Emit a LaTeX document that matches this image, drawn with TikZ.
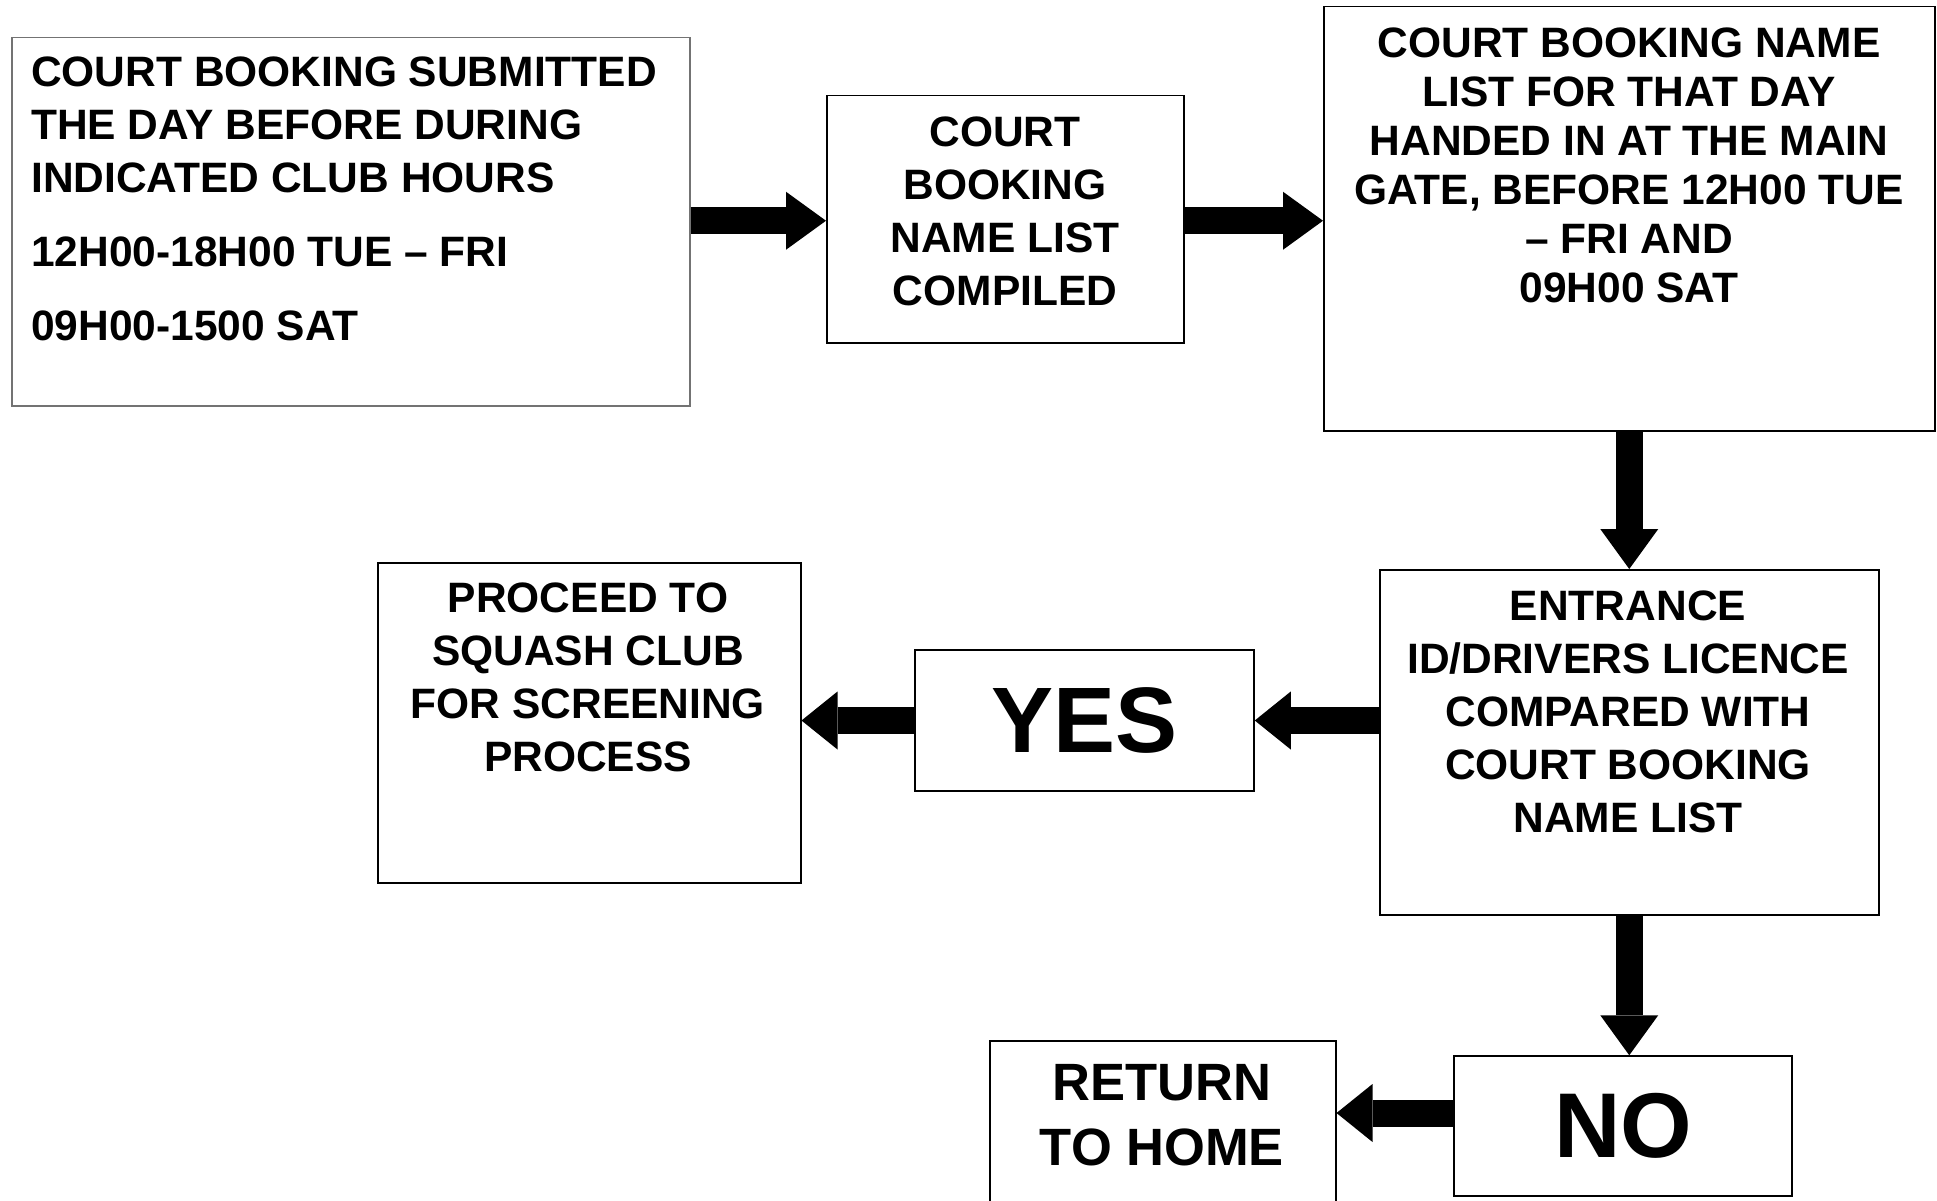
\documentclass[tikz,border=0pt]{standalone}
\usepackage{fontspec}
\setmainfont{Liberation Sans}
\usetikzlibrary{arrows.meta,calc}
\begin{document}
\begin{tikzpicture}[x=1pt,y=-1pt,
  box/.style={draw=black,line width=1.5pt,inner sep=0pt,anchor=north west,fill=none},
  txt/.style={inner sep=0pt,anchor=north,align=center,font=\fontsize{42.5}{53}\selectfont\bfseries},
  bigarr/.style={line width=27pt,-{Triangle[length=40pt,width=58pt,line width=0pt]}},
  leftarr/.style={line width=27pt,-{Triangle[length=36pt,width=58pt,line width=0pt]}}]
\clip (0,0) rectangle (1937,1201);
\fill[white] (0,0) rectangle (1937,1201);
% boxes
\node[box,draw=black!55,minimum width=678pt,minimum height=368pt] (b1) at (11,37) {};
\node[box,minimum width=357pt,minimum height=247pt] (b2) at (826,95) {};
\node[box,minimum width=611pt,minimum height=424pt] (b3) at (1323,6) {};
\node[box,minimum width=499pt,minimum height=345pt] (b4) at (1379,569) {};
\node[box,minimum width=339pt,minimum height=141pt,anchor=center,font=\fontsize{93}{100}\selectfont\bfseries] (yes) at (1084.5,720.5) {YES};
\node[box,minimum width=423pt,minimum height=320pt] (proc) at (377,562) {};
\node[box,minimum width=338pt,minimum height=140pt,anchor=center,font=\fontsize{92}{100}\selectfont\bfseries] (no) at (1623,1126) {NO};
\node[box,minimum width=346pt,minimum height=240pt] (ret) at (989,1040) {};
% texts
\node[txt,anchor=north west,align=left] (t1) at (31,57) {COURT BOOKING SUBMITTED\\THE DAY BEFORE DURING\\INDICATED CLUB HOURS\\[21pt]12H00-18H00 TUE -- FRI\\[21pt]09H00-1500 SAT};
\node[txt] (t2) at (1005,117) {COURT\\BOOKING\\NAME LIST\\COMPILED};
\node[txt,font=\fontsize{42.5}{49}\selectfont\bfseries] (t3) at (1629,28) {COURT BOOKING NAME\\LIST FOR THAT DAY\\HANDED IN AT THE MAIN\\GATE, BEFORE 12H00 TUE\\-- FRI AND\\09H00 SAT};
\node[txt] (t4) at (1628,591) {ENTRANCE\\ID/DRIVERS LICENCE\\COMPARED WITH\\COURT BOOKING\\NAME LIST};
\node[txt] (tp) at (588,583) {PROCEED TO\\SQUASH CLUB\\FOR SCREENING\\PROCESS};
\node[txt,font=\fontsize{52.5}{65}\selectfont\bfseries] (tr) at (1162,1064) {RETURN\\TO HOME};
% arrows
\draw[bigarr] ($(b1.east)+(0,-1)$) -- ($(b1.east -| b2.west)+(0,-1)$);
\draw[bigarr] ($(b1.east -| b2.east)+(0,-1)$) -- ($(b1.east -| b3.west)+(0,-1)$);
\draw[bigarr] (b3.south) -- (b3.south |- b4.north);
\draw[leftarr] (yes.east -| b4.west) -- (yes.east);
\draw[leftarr] (yes.west) -- (yes.west -| proc.east);
\draw[bigarr] (b4.south) -- (b4.south |- no.north);
\draw[leftarr] ($(no.west)+(0,-13)$) -- ($(no.west -| ret.east)+(0,-13)$);
\end{tikzpicture}
\end{document}
